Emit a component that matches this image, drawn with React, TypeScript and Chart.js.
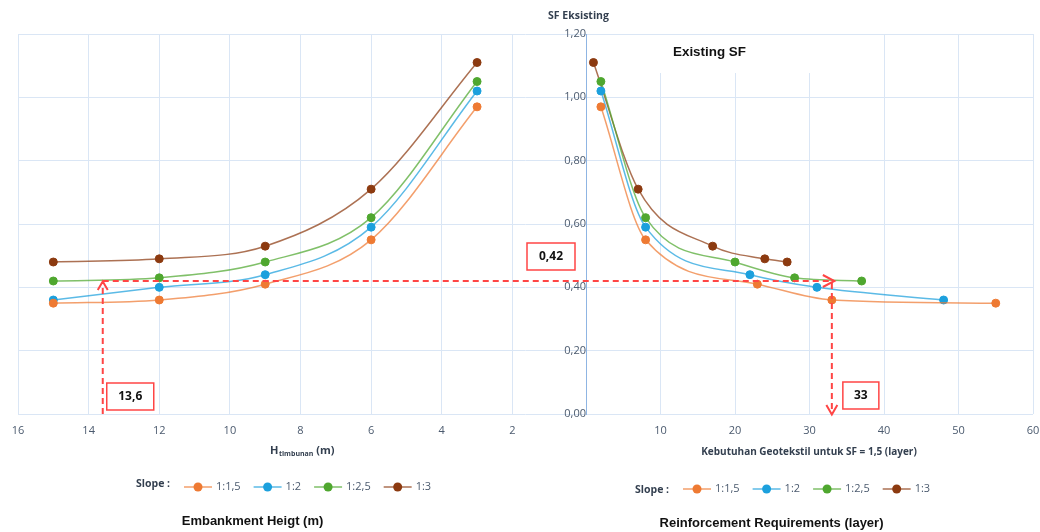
import React, { useEffect, useRef } from 'react';
import { Chart, registerables } from 'chart.js';

Chart.register(...registerables);

// ---------- data ----------
const slopeLabels = ['1:1,5', '1:2', '1:2,5', '1:3'];
const markerColors = ['#EE7A33', '#1CA0DD', '#4FA72F', '#8C3A10'];
const lineColors = ['rgba(238,122,51,0.72)', 'rgba(28,160,221,0.72)', 'rgba(79,167,47,0.72)', 'rgba(140,58,16,0.72)'];

// left panel: embankment height (m) vs existing SF
const embankmentHeights = [15, 12, 9, 6, 3];
const sfHeight_1_15 = [0.35, 0.36, 0.41, 0.55, 0.97];
const sfHeight_1_2 = [0.36, 0.40, 0.44, 0.59, 1.02];
const sfHeight_1_25 = [0.42, 0.43, 0.48, 0.62, 1.05];
const sfHeight_1_3 = [0.48, 0.49, 0.53, 0.71, 1.11];

// right panel: geotextile layers needed vs existing SF
const layers_1_15 = [2, 8, 23, 33, 55];
const sfLayers_1_15 = [0.97, 0.55, 0.41, 0.36, 0.35];
const layers_1_2 = [2, 8, 22, 31, 48];
const sfLayers_1_2 = [1.02, 0.59, 0.44, 0.40, 0.36];
const layers_1_25 = [2, 8, 20, 28, 37];
const sfLayers_1_25 = [1.05, 0.62, 0.48, 0.43, 0.42];
const layers_1_3 = [1, 7, 17, 24, 27];
const sfLayers_1_3 = [1.11, 0.71, 0.53, 0.49, 0.48];

const heightTicks = [0, 2, 4, 6, 8, 10, 12, 14, 16];
const layerTicks = [0, 10, 20, 30, 40, 50, 60];
const sfMin = 0;
const sfMax = 1.2;
const sfStep = 0.2;

const targetHeight = 13.6;
const targetSF = 0.42;
const targetLayers = 33;
const targetHeightLabel = '13,6';
const targetSFLabel = '0,42';
const targetLayersLabel = '33';

// ---------- layout ----------
const W = 1040;
const H = 532;
const PAD_LEFT = 18;
const PAD_TOP = 34;
const PAD_RIGHT = 7;
const XAXIS_H = 118;
const PLOT_W = W - PAD_LEFT - PAD_RIGHT; // 1015
const LEFT_PANEL_W = 565; // 16 -> 0
const RIGHT_ORIGIN = 568; // offset of right panel origin from plot left
const hMax = 16;
const hMin = hMax - (PLOT_W * hMax) / LEFT_PANEL_W;
const lMax = 60;
const lMin = -(RIGHT_ORIGIN * lMax) / (PLOT_W - RIGHT_ORIGIN);
const TICK_LABEL_Y = 431;

const GRID = '#DAE6F5';
const AXIS_BLUE = '#8FB5E3';
const TICK_COLOR = '#4B5A6E';
const TITLE_COLOR = '#333F4F';
const RED = '#FF4545';

const fmt = (v: number) => v.toFixed(2).replace('.', ',');

const mk = (xs: number[], ys: number[]) => xs.map((x, i) => ({ x, y: ys[i] }));

const leftSeries = [sfHeight_1_15, sfHeight_1_2, sfHeight_1_25, sfHeight_1_3];
const rightSeries = [
  [layers_1_15, sfLayers_1_15],
  [layers_1_2, sfLayers_1_2],
  [layers_1_25, sfLayers_1_25],
  [layers_1_3, sfLayers_1_3],
];

function dsStyle(i: number) {
  return {
    borderColor: lineColors[i],
    backgroundColor: markerColors[i],
    pointBackgroundColor: markerColors[i],
    pointBorderColor: markerColors[i],
    pointBorderWidth: 1,
    pointRadius: 4,
    borderWidth: 1.5,
    cubicInterpolationMode: 'monotone' as const,
    fill: false,
  };
}

function drawLegend(ctx: CanvasRenderingContext2D, x0: number, yText: number, yItems: number) {
  ctx.save();
  ctx.textBaseline = 'middle';
  ctx.textAlign = 'left';
  ctx.fillStyle = TITLE_COLOR;
  ctx.font = 'bold 10.5px "Open Sans"';
  ctx.fillText('Slope :', x0, yText, 35);
  let x = x0 + 48;
  ctx.font = '11px "Open Sans"';
  slopeLabels.forEach((lab, i) => {
    ctx.strokeStyle = lineColors[i];
    ctx.lineWidth = 1.5;
    ctx.beginPath();
    ctx.moveTo(x, yItems);
    ctx.lineTo(x + 28, yItems);
    ctx.stroke();
    ctx.fillStyle = markerColors[i];
    ctx.beginPath();
    ctx.arc(x + 14, yItems, 4.5, 0, Math.PI * 2);
    ctx.fill();
    ctx.fillStyle = TICK_COLOR;
    ctx.fillText(lab, x + 32, yItems);
    x += 32 + ctx.measureText(lab).width + 13;
  });
  ctx.restore();
}

function drawBox(ctx: CanvasRenderingContext2D, x: number, y: number, w: number, h: number, text: string) {
  ctx.save();
  ctx.fillStyle = '#fff';
  ctx.fillRect(x, y, w, h);
  ctx.strokeStyle = RED;
  ctx.lineWidth = 1.5;
  ctx.strokeRect(x, y, w, h);
  ctx.fillStyle = '#111';
  ctx.font = 'bold 12px "Open Sans"';
  ctx.textAlign = 'center';
  ctx.textBaseline = 'middle';
  ctx.fillText(text, x + w / 2, y + h / 2 + 0.5);
  ctx.restore();
}

function chevron(ctx: CanvasRenderingContext2D, pts: number[][]) {
  ctx.beginPath();
  ctx.moveTo(pts[0][0], pts[0][1]);
  ctx.lineTo(pts[1][0], pts[1][1]);
  ctx.lineTo(pts[2][0], pts[2][1]);
  ctx.stroke();
}

const overlayPlugin = {
  id: 'overlay',
  beforeDatasetsDraw(chart: any) {
    const ctx: CanvasRenderingContext2D = chart.ctx;
    const xR = chart.scales.xR;
    const top = chart.chartArea.top;
    ctx.save();
    // white title area masking grid like the reference
    ctx.fillStyle = '#fff';
    const x0 = xR.getPixelForValue(0) + 1;
    ctx.fillRect(x0, top + 1, xR.getPixelForValue(36) - x0, 38);
    ctx.fillStyle = '#111';
    ctx.font = 'bold 13.5px "Liberation Sans"';
    ctx.textAlign = 'center';
    ctx.textBaseline = 'middle';
    ctx.fillText('Existing SF', 709.5, 52, 73);
    ctx.restore();
  },
  afterDatasetsDraw(chart: any) {
    const ctx: CanvasRenderingContext2D = chart.ctx;
    const xL = chart.scales.xL;
    const xR = chart.scales.xR;
    const y = chart.scales.y;
    const pxH = xL.getPixelForValue(targetHeight);
    const pxL = xR.getPixelForValue(targetLayers);
    const pyS = y.getPixelForValue(targetSF);
    const py0 = y.getPixelForValue(0);
    ctx.save();
    ctx.strokeStyle = RED;
    ctx.lineWidth = 2;
    ctx.setLineDash([6, 4]);
    ctx.beginPath();
    ctx.moveTo(pxH, pyS);
    ctx.lineTo(pxL + 2, pyS);
    ctx.moveTo(pxH, py0);
    ctx.lineTo(pxH, pyS + 2);
    ctx.moveTo(pxL, pyS + 2);
    ctx.lineTo(pxL, py0 - 1);
    ctx.stroke();
    ctx.setLineDash([]);
    ctx.lineWidth = 2;
    chevron(ctx, [[pxH - 5, pyS + 9], [pxH, pyS + 0.5], [pxH + 5, pyS + 9]]);
    chevron(ctx, [[pxL - 9, pyS - 6], [pxL + 2.5, pyS], [pxL - 9, pyS + 6]]);
    chevron(ctx, [[pxL - 5.5, py0 - 9], [pxL, py0 + 0.5], [pxL + 5.5, py0 - 9]]);
    ctx.restore();

    drawBox(ctx, pxH + 4, py0 - 31, 47, 27, targetHeightLabel);
    drawBox(ctx, xR.getPixelForValue(0) - 59, pyS - 38, 48, 27, targetSFLabel);
    drawBox(ctx, pxL + 11, py0 - 32, 36, 27, targetLayersLabel);
  },
  afterDraw(chart: any) {
    const ctx: CanvasRenderingContext2D = chart.ctx;
    const xR = chart.scales.xR;
    ctx.save();
    // right panel tick labels (drawn here because that axis shares the bottom band)
    ctx.fillStyle = TICK_COLOR;
    ctx.font = '11px "Open Sans"';
    ctx.textAlign = 'center';
    ctx.textBaseline = 'middle';
    layerTicks.forEach((v) => {
      if (v === 0) return;
      ctx.fillText(String(v), xR.getPixelForValue(v), TICK_LABEL_Y);
    });

    ctx.fillStyle = TITLE_COLOR;
    // y-axis title
    ctx.font = 'bold 10.5px "Open Sans"';
    ctx.fillText('SF Eksisting', 578.5, 16, 63);
    // left x title with subscript
    ctx.textAlign = 'left';
    let x = 270;
    ctx.font = 'bold 11px "Open Sans"';
    ctx.fillText('H', x, 451);
    x += ctx.measureText('H').width + 0.5;
    ctx.font = 'bold 7px "Open Sans"';
    ctx.fillText('timbunan', x, 454);
    x += ctx.measureText('timbunan').width;
    ctx.font = 'bold 11px "Open Sans"';
    ctx.fillText(' (m)', x, 451);
    // right x title
    ctx.textAlign = 'center';
    ctx.font = 'bold 10px "Open Sans"';
    ctx.fillText('Kebutuhan Geotekstil untuk SF = 1,5 (layer)', 809, 452, 225);
    // bottom titles
    ctx.fillStyle = '#111';
    ctx.font = 'bold 13px "Liberation Sans"';
    ctx.fillText('Embankment Heigt (m)', 252.5, 521, 146);
    ctx.fillText('Reinforcement Requirements (layer)', 771.5, 523, 230);
    ctx.restore();

    drawLegend(ctx, 136, 484, 487);
    drawLegend(ctx, 635, 490, 489);
  },
};

export default function App() {
  const ref = useRef<HTMLCanvasElement>(null);
  useEffect(() => {
    document.body.style.margin = '0';
    Chart.defaults.font.family = '"Open Sans", sans-serif';
    const datasets: any[] = [];
    leftSeries.forEach((ys, i) => {
      datasets.push({
        label: slopeLabels[i],
        data: mk(embankmentHeights, ys),
        xAxisID: 'xL',
        yAxisID: 'y',
        ...dsStyle(i),
      });
    });
    rightSeries.forEach(([xs, ys], i) => {
      datasets.push({
        label: slopeLabels[i],
        data: mk(xs, ys),
        xAxisID: 'xR',
        yAxisID: 'y',
        ...dsStyle(i),
      });
    });

    const tickFont = { family: '"Open Sans"', size: 11 };
    const chart = new Chart(ref.current!, {
      type: 'line',
      data: { datasets },
      plugins: [overlayPlugin],
      options: {
        animation: false,
        responsive: false,
        devicePixelRatio: 1,
        events: [],
        layout: { padding: { left: PAD_LEFT, top: PAD_TOP, right: PAD_RIGHT, bottom: 0 } },
        plugins: { legend: { display: false }, tooltip: { enabled: false }, title: { display: false } },
        scales: {
          xR: {
            type: 'linear',
            axis: 'x',
            position: 'bottom',
            weight: 0,
            min: lMin,
            max: lMax,
            afterBuildTicks: (s: any) => {
              s.ticks = layerTicks.map((v) => ({ value: v }));
            },
            afterFit: (s: any) => {
              s.height = 0;
            },
            grid: {
              color: (c: any) => (c.tick && c.tick.value === 0 ? 'rgba(0,0,0,0)' : GRID),
              drawTicks: false,
              lineWidth: 1,
            },
            border: { display: false },
            ticks: { display: false },
          },
          xL: {
            type: 'linear',
            axis: 'x',
            position: 'bottom',
            weight: 1,
            reverse: true,
            min: hMin,
            max: hMax,
            afterBuildTicks: (s: any) => {
              s.ticks = heightTicks.map((v) => ({ value: v }));
            },
            afterFit: (s: any) => {
              s.height = XAXIS_H;
            },
            grid: {
              color: (c: any) => (c.tick && c.tick.value === 0 ? 'rgba(0,0,0,0)' : GRID),
              drawTicks: false,
              lineWidth: 1,
            },
            border: { display: false },
            ticks: {
              autoSkip: false,
              maxRotation: 0,
              padding: 10,
              color: TICK_COLOR,
              font: tickFont,
              callback: (v: any) => (v === 0 ? '' : String(v)),
            },
          },
          y: {
            type: 'linear',
            axis: 'y',
            position: { xR: 0 } as any,
            min: sfMin,
            max: sfMax,
            afterFit: (s: any) => {
              s.width = 0;
            },
            grid: { color: GRID, drawTicks: false, lineWidth: 1 },
            border: { display: true, color: AXIS_BLUE, width: 1 },
            ticks: {
              stepSize: sfStep,
              padding: 12,
              color: TICK_COLOR,
              font: tickFont,
              callback: (v: any) => fmt(Number(v)),
            },
          },
        } as any,
      },
    } as any);
    return () => chart.destroy();
  }, []);

  return (
    <div style={{ position: 'absolute', left: 0, top: 0, width: W, height: H, background: '#fff' }}>
      <canvas ref={ref} width={W} height={H} style={{ display: 'block', width: W, height: H }} />
    </div>
  );
}
